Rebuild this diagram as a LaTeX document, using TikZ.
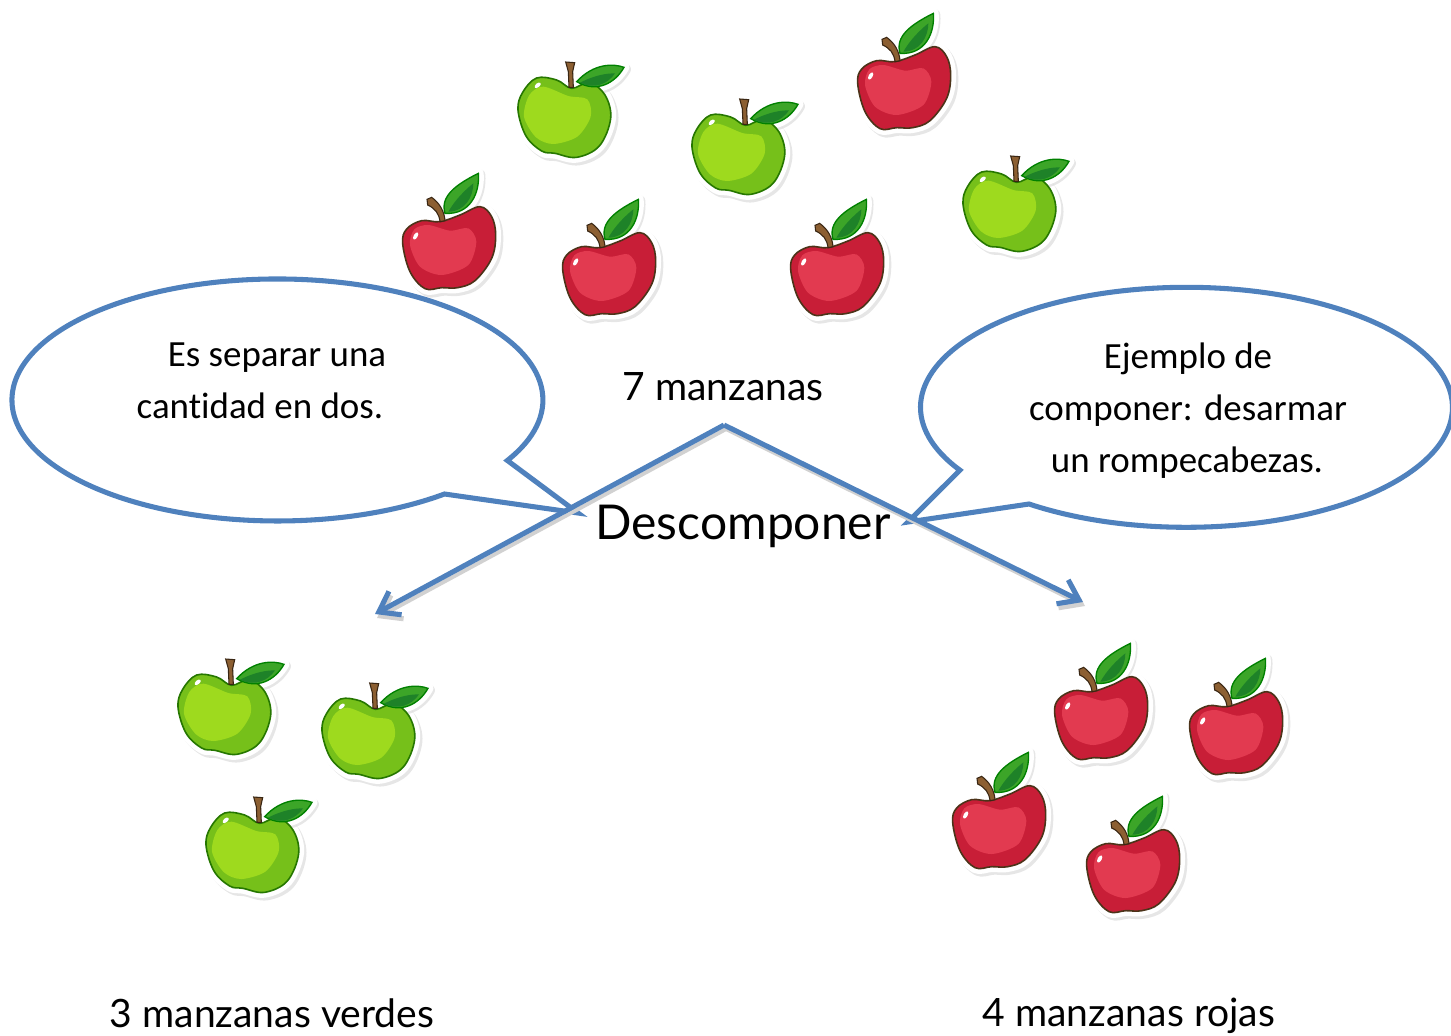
\documentclass[tikz,border=0pt]{standalone}
\usepackage{fontspec}
\setmainfont[Ligatures=NoCommon]{Carlito}
\newfontfamily\comicfont{Lato}
\usetikzlibrary{arrows.meta}

\definecolor{calloutblue}{RGB}{79,129,189}

\newcommand{\greenbody}{plot[smooth cycle,tension=0.6] coordinates {(215,145) (268,128) (315,165) (332,235) (298,318) (230,352) (165,340) (125,333) (78,288) (54,210) (68,157) (110,114) (170,120)}}
\newcommand{\redbody}{plot[smooth cycle,tension=0.6] coordinates {(165,185) (225,165) (285,140) (320,170) (332,225) (320,295) (270,362) (218,383) (170,383) (120,386) (75,335) (53,250) (65,207) (110,182)}}

\tikzset{
  every picture/.style={line width=0.75pt},
  callout/.style={draw=calloutblue,line width=3.8pt,line join=miter},
  splitarrow/.style={draw=calloutblue,line width=3.8pt,-{Straight Barb[length=14pt,width=20pt,line width=3.8pt]},
    preaction={draw=black!18,line width=3pt,transform canvas={shift={(1.5pt,-3pt)}}}},
  bubbletext/.style={font=\fontsize{27.7}{33}\selectfont,inner sep=0pt},
  counttext/.style={font=\comicfont\fontsize{29.3}{35}\selectfont,inner sep=0pt},
  sticker/.style={draw=white,fill=white,line width=8pt,line join=round},
  stickershadow/.style={draw=black!16,fill=black!16,line width=8pt,line join=round,opacity=0.6},
  pics/greenapple/.style={code={
    \begin{scope}[xscale=1/3,yscale=-1/3]
    % sticker
    \path[stickershadow,shift={(7,8)}] \greenbody;
    \path[sticker] \greenbody;
    \path[stickershadow,shift={(5,6)}] (230,125) .. controls (280,70) and (340,70) .. (372,82) .. controls (345,130) and (290,160) .. (230,125) -- cycle;
    \path[sticker] (230,125) .. controls (280,70) and (340,70) .. (372,82) .. controls (345,130) and (290,160) .. (230,125) -- cycle;
    \path[sticker] (205,140) -- (197,68) -- (225,68) -- (222,140) -- cycle;
    % body
    \draw[draw=black!55!green!70!olive,fill={rgb,255:red,118;green,192;blue,26},line width=1.2pt] \greenbody;
    \fill[fill={rgb,255:red,158;green,218;blue,30}] plot[smooth cycle] coordinates {(72,230) (88,165) (130,140) (205,168) (262,178) (272,230) (232,290) (160,312) (108,292)};
    \fill[white,rotate around={-40:(113,136)}] (113,136) ellipse [x radius=11,y radius=6];
    % stem
    \draw[draw=black!70!brown,fill={rgb,255:red,140;green,95;blue,50},line width=0.8pt] (207,142) -- (220,142) -- (218,95) -- (224,68) -- (197,66) -- (205,95) -- cycle;
    % leaf
    \draw[draw=black!50!green,fill={rgb,255:red,60;green,165;blue,40},line width=1pt] (230,125) .. controls (280,70) and (340,70) .. (372,82) .. controls (345,130) and (290,160) .. (230,125) -- cycle;
    \fill[fill={rgb,255:red,30;green,130;blue,40}] (240,128) .. controls (285,105) and (320,100) .. (345,100) .. controls (325,130) and (285,150) .. (240,128) -- cycle;
    \end{scope}
  }},
  pics/redapple/.style={code={
    \begin{scope}[xscale=1/3,yscale=-1/3]
    % sticker
    \path[stickershadow,shift={(7,8)}] \redbody;
    \path[sticker] \redbody;
    \path[stickershadow,shift={(5,4)}] (180,160) .. controls (165,110) and (210,75) .. (280,40) .. controls (285,100) and (255,165) .. (180,160) -- cycle;
    \path[sticker] (180,160) .. controls (165,110) and (210,75) .. (280,40) .. controls (285,100) and (255,165) .. (180,160) -- cycle;
    % body
    \draw[draw=black!60!brown,fill={rgb,255:red,200;green,30;blue,55},line width=1.2pt] \redbody;
    \fill[fill={rgb,255:red,226;green,58;blue,80}] plot[smooth cycle] coordinates {(75,255) (88,208) (130,195) (195,212) (250,205) (274,245) (250,315) (170,345) (105,320)};
    \fill[white,rotate around={-60:(92,228)}] (92,228) ellipse [x radius=12,y radius=6];
    % stem
    \draw[draw=black!70!brown,fill={rgb,255:red,140;green,95;blue,50},line width=0.8pt] (165,185) .. controls (162,160) and (150,145) .. (128,135) -- (126,118) -- (140,112) .. controls (165,130) and (178,155) .. (180,182) -- cycle;
    % leaf
    \draw[draw=black!50!green,fill={rgb,255:red,60;green,165;blue,40},line width=1pt] (180,160) .. controls (165,110) and (210,75) .. (280,40) .. controls (285,100) and (255,165) .. (180,160) -- cycle;
    \fill[fill={rgb,255:red,30;green,130;blue,40}] (190,155) .. controls (210,120) and (240,90) .. (265,70) .. controls (265,110) and (240,155) .. (190,155) -- cycle;
    \end{scope}
  }},
}

\begin{document}
\begin{tikzpicture}[x=0.75pt,y=0.75pt,yscale=-1,xscale=1]
\useasboundingbox (0,0) rectangle (1451,1035);

% apples on top
\pic at (500,40) {greenapple};
\pic at (674,77) {greenapple};
\pic at (945,134) {greenapple};
\pic at (840,0) {redapple};
\pic at (385,160) {redapple};
\pic at (545,186) {redapple};
\pic at (773,186) {redapple};

% apples bottom left
\pic at (160,637) {greenapple};
\pic at (304,661) {greenapple};
\pic at (188,775) {greenapple};

% apples bottom right
\pic at (1037,630) {redapple};
\pic at (1172,645) {redapple};
\pic at (935,739) {redapple};
\pic at (1069,783) {redapple};

% Callouts
\coordinate (lefttip) at (578,513);
\coordinate (leftfoot) at (444.5,494);
\coordinate (righttip) at (908,522);
\coordinate (rightfoot) at (1029,504);
\draw[callout] (lefttip) -- (leftfoot) arc [start angle=51,end angle=390,x radius=265.5,y radius=121] -- cycle;
\draw[callout] (righttip) -- (rightfoot) arc [start angle=126.3,end angle=-211.6,x radius=266,y radius=120] -- cycle;

% Arrows
\coordinate (apex) at (724,425);
\coordinate (leftend) at (375,614);
\coordinate (rightend) at (1083,602);
\draw[splitarrow] (apex) -- (leftend);
\draw[splitarrow] (apex) -- (rightend);

% Text
\node[bubbletext] (defa) at (277,358) {Es separar una};
\node[bubbletext] (defb) at (260,406) {cantidad en dos.};
\node[bubbletext] (exa) at (1188,359) {Ejemplo de};
\node[bubbletext] (exb) at (1188,411) {componer: desarmar};
\node[bubbletext] (exc) at (1187,463) {un rompecabezas.};
\node[counttext] (total) at (723,387) {7 manzanas};
\node[counttext,font=\comicfont\fontsize{36}{43}\selectfont] (title) at (743,526) {Descomponer};
\node[counttext] (green) at (272,1013) {3 manzanas verdes};
\node[counttext] (red) at (1129,1016) {4 manzanas rojas};

\end{tikzpicture}
\end{document}
